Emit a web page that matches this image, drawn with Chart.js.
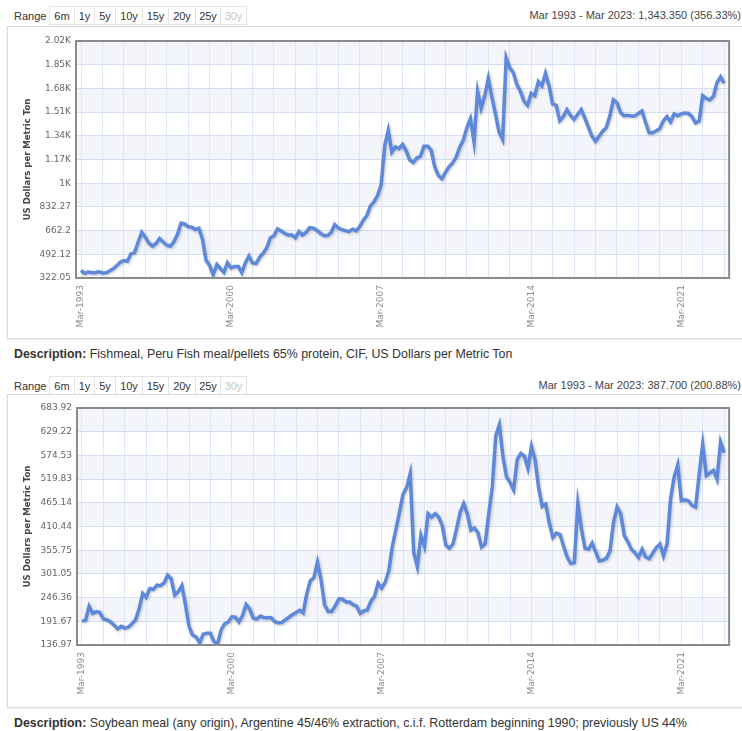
<!DOCTYPE html>
<html>
<head>
<meta charset="utf-8">
<script src="https://cdn.jsdelivr.net/npm/chart.js@4.4.0/dist/chart.umd.min.js"></script>
<style>
  body { margin: 0; background: #fff; width: 742px; height: 731px; position: relative; overflow: hidden;
         font-family: "Liberation Sans", Arial, sans-serif; }
  .range { position: absolute; left: 14px; height: 19px; display: flex; align-items: center; font-size: 11px; color: #333; }
  .range .lbl { width: 35px; }
  .range .b { box-sizing: border-box; height: 19px; line-height: 18px; text-align: center; border: 1px solid #e4e4e4;
              border-right: none; background: #fff; }
  .range .b:last-child { border-right: 1px solid #e4e4e4; color: #c4c4c4; }
  .info { position: absolute; right: 1px; font-size: 11px; color: #444; }
  .panel { position: absolute; left: 7px; width: 745px; border: 1px solid #d9d9d9; box-shadow: 0 1px 2px rgba(0,0,0,0.08); }
  .box { position: absolute; left: 0; width: 742px; }
  .desc { position: absolute; left: 14px; font-size: 12.4px; color: #333; white-space: nowrap; }
</style>
</head>
<body>

<div class="range" style="top:6px"><span class="lbl">Range</span><span class="b" style="width:25px">6m</span><span class="b" style="width:20px">1y</span><span class="b" style="width:21px">5y</span><span class="b" style="width:27px">10y</span><span class="b" style="width:26px">15y</span><span class="b" style="width:27px">20y</span><span class="b" style="width:25px">25y</span><span class="b" style="width:27px">30y</span></div>
<div class="info" style="top:9px">Mar 1993 - Mar 2023: 1,343.350 (356.33%)</div>
<div class="panel" style="top:26px;height:311px"></div>
<div class="box" style="top:26px;height:312px"><canvas id="fish"></canvas></div>
<div class="desc" style="top:347px"><b>Description:</b> Fishmeal, Peru Fish meal/pellets 65% protein, CIF, US Dollars per Metric Ton</div>

<div class="range" style="top:376px"><span class="lbl">Range</span><span class="b" style="width:25px">6m</span><span class="b" style="width:20px">1y</span><span class="b" style="width:21px">5y</span><span class="b" style="width:27px">10y</span><span class="b" style="width:26px">15y</span><span class="b" style="width:27px">20y</span><span class="b" style="width:25px">25y</span><span class="b" style="width:27px">30y</span></div>
<div class="info" style="top:379px">Mar 1993 - Mar 2023: 387.700 (200.88%)</div>
<div class="panel" style="top:394px;height:312px"></div>
<div class="box" style="top:394px;height:313px"><canvas id="soy"></canvas></div>
<div class="desc" style="top:716px"><b>Description:</b> Soybean meal (any origin), Argentine 45/46% extraction, c.i.f. Rotterdam beginning 1990; previously US 44%</div>

<script>
// values every 2 months, Mar-1993 .. Mar-2023
const fishmeal = [
  377, 355, 365, 360, 360, 367, 358, 360, 372, 388,
  410, 435, 447, 442, 497, 505, 580, 650, 615, 572,
  550, 570, 605, 580, 557, 550, 582, 635, 715, 708,
  690, 686, 670, 678, 600, 449, 412, 345, 418, 390,
  362, 430, 395, 405, 405, 360, 430, 480, 430, 425,
  470, 500, 540, 610, 626, 675, 660, 642, 630, 630,
  610, 655, 630, 650, 683, 680, 665, 642, 625, 627,
  648, 705, 680, 669, 662, 655, 672, 660, 690, 735,
  770, 840, 868, 914, 990, 1270, 1380, 1225, 1262, 1250,
  1280, 1235, 1170, 1150, 1184, 1196, 1268, 1268, 1240, 1120,
  1060, 1033, 1080, 1120, 1148, 1190, 1260, 1311, 1400, 1465,
  1300, 1660, 1540, 1630, 1755, 1620, 1500, 1370, 1316, 1900,
  1830, 1795, 1710, 1660, 1590, 1560, 1646, 1630, 1730, 1700,
  1790, 1700, 1570, 1560, 1450, 1480, 1530, 1489, 1460, 1495,
  1530, 1470, 1405, 1340, 1304, 1340, 1376, 1400, 1484, 1600,
  1580, 1510, 1486, 1489, 1484, 1484, 1503, 1520, 1440, 1364,
  1364, 1378, 1395, 1450, 1480, 1441, 1500, 1486, 1500, 1506,
  1503, 1480, 1435, 1448, 1630, 1610, 1600, 1625, 1723, 1765,
  1720
];
const soymeal = [
  192, 194, 226, 210, 214, 212, 197, 195, 190, 183,
  174, 180, 176, 178, 186, 195, 220, 256, 247, 267,
  265, 275, 274, 280, 298, 290, 252, 260, 274, 230,
  180, 160, 155, 142, 162, 164, 164, 145, 139, 172,
  186, 190, 202, 201, 190, 205, 230, 220, 199, 197,
  204, 200, 200, 200, 191, 188, 189, 195, 201, 207,
  212, 217, 211, 255, 285, 292, 328, 288, 230, 214,
  214, 228, 243, 243, 236, 236, 230, 226, 210, 216,
  218, 238, 249, 280, 268, 282, 308, 365, 404, 443,
  485, 500, 532, 350, 318, 390, 365, 440, 432, 440,
  432, 412, 367, 360, 370, 405, 443, 463, 440, 402,
  407, 396, 363, 370, 438, 500, 620, 645, 572, 525,
  512, 495, 565, 579, 573, 545, 595, 565, 500, 457,
  462, 418, 385, 395, 392, 365, 340, 325, 327, 463,
  405, 360, 358, 372, 352, 331, 333, 337, 354, 420,
  455, 440, 390, 375, 358, 350, 339, 358, 340, 336,
  349, 362, 370, 343, 370, 475, 525, 552, 470, 472,
  470, 459, 455, 530, 600, 528, 534, 540, 520, 605,
  581
];
const monthStep = 2;                       // months between readings
const gridMonths = Array.from({ length: 31 }, (_, i) => i * 12);   // every March
const labelMonths = [0, 84, 168, 252, 336];
const labelTexts  = ['Mar-1993', 'Mar-2000', 'Mar-2007', 'Mar-2014', 'Mar-2021'];

const fishTicks  = [322.05, 492.12, 662.19, 832.26, 1002.33, 1172.40, 1342.47, 1512.54, 1682.61, 1852.68, 2022.75];
const fishLabels = ['322.05', '492.12', '662.2', '832.27', '1K', '1.17K', '1.34K', '1.51K', '1.68K', '1.85K', '2.02K'];
const soyTicks   = [136.97, 191.665, 246.36, 301.055, 355.75, 410.445, 465.14, 519.835, 574.53, 629.225, 683.92];
const soyLabels  = ['136.97', '191.67', '246.36', '301.05', '355.75', '410.44', '465.14', '519.83', '574.53', '629.22', '683.92'];

const LINE = '#5e88d9';

const plotDecor = {
  id: 'plotDecor',
  beforeDraw(chart) {
    const { ctx, chartArea: a, scales: { y } } = chart;
    const ticks = chart.options.plugins.plotDecor.ticks;
    ctx.save();
    ctx.fillStyle = '#f3f5fb';
    for (let i = 1; i < ticks.length - 1; i += 2) {
      const y0 = y.getPixelForValue(ticks[i + 1]);
      const y1 = y.getPixelForValue(ticks[i]);
      ctx.fillRect(a.left, y0, a.right - a.left, y1 - y0);
    }
    ctx.restore();
  },
  beforeDatasetDraw(chart) {
    const ctx = chart.ctx;
    ctx.save();
    ctx.shadowColor = 'rgba(0,0,0,0.22)';
    ctx.shadowBlur = 3;
    ctx.shadowOffsetX = 1;
    ctx.shadowOffsetY = 1;
  },
  afterDatasetDraw(chart) { chart.ctx.restore(); },
  afterDraw(chart) {
    const { ctx, chartArea: a } = chart;
    ctx.save();
    ctx.strokeStyle = '#8a8a8a';
    ctx.lineWidth = 2;
    ctx.strokeRect(a.left, a.top, a.right - a.left, a.bottom - a.top);
    ctx.restore();
  }
};

function makeChart(id, values, yTicks, yLabels, geo) {
  const pts = values.map((v, i) => ({ x: i * monthStep, y: v }));
  return new Chart(document.getElementById(id), {
    type: 'line',
    data: { datasets: [{ data: pts, borderColor: LINE, borderWidth: 3.5, pointRadius: 0, tension: 0, fill: false }] },
    options: {
      responsive: true, maintainAspectRatio: false, animation: false,
      layout: { padding: { top: geo.top, right: geo.right, left: 0, bottom: 0 } },
      plugins: { legend: { display: false }, tooltip: { enabled: false }, plotDecor: { ticks: yTicks } },
      scales: {
        x: {
          type: 'linear', min: -2.8, max: 362.8,
          afterBuildTicks: (s) => { s.ticks = gridMonths.map((v) => ({ value: v })); },
          afterFit: (s) => { s.height = geo.xh; },
          grid: { color: '#dce6f8', drawTicks: false },
          border: { display: false },
          ticks: {
            autoSkip: false, minRotation: 90, maxRotation: 90, padding: 7, color: '#8a8a8a',
            font: { family: 'DejaVu Sans', size: 9 },
            callback: (v) => { const i = labelMonths.indexOf(v); return i < 0 ? '' : labelTexts[i]; }
          }
        },
        y: {
          min: yTicks[0], max: yTicks[yTicks.length - 1],
          afterBuildTicks: (s) => { s.ticks = yTicks.map((v) => ({ value: v })); },
          afterFit: (s) => { s.width = geo.left; },
          grid: { color: '#d3def5', drawTicks: false },
          border: { display: false },
          ticks: {
            padding: 5, color: '#666',
            font: { family: 'DejaVu Sans', size: 9 },
            callback: (v) => { const i = yTicks.indexOf(v); return i < 0 ? '' : yLabels[i]; }
          },
          title: {
            display: true, text: 'US Dollars per Metric Ton', color: '#444',
            font: { family: 'DejaVu Sans', size: 8.5, weight: 'bold' },
            padding: { top: 23, bottom: 0 }
          }
        }
      }
    },
    plugins: [plotDecor]
  });
}

makeChart('fish', fishmeal, fishTicks, fishLabels, { top: 15, right: 9, left: 76, xh: 60 });
makeChart('soy', soymeal, soyTicks, soyLabels, { top: 14, right: 10, left: 77, xh: 62 });
</script>
</body>
</html>
